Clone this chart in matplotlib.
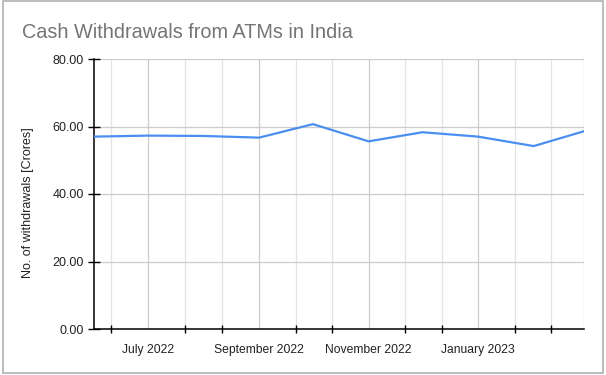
import numpy as np
import matplotlib
matplotlib.use('Agg')
import matplotlib.pyplot as plt
import matplotlib.dates as mdates
from matplotlib.patches import Rectangle
from datetime import datetime

# monthly data
meses=['2022-06-01','2022-07-01','2022-08-01','2022-09-01','2022-10-01',
       '2022-11-01','2022-12-01','2023-01-01','2023-02-01','2023-03-01']
retiros=[57.0,57.3,57.2,56.7,60.7,55.6,58.3,57.0,54.2,58.6]
etiquetas_x=['2022-07-01','2022-09-01','2022-11-01','2023-01-01']
ticks_y=[0,20,40,60,80]

plt.rcParams['font.family']=['Liberation Sans','DejaVu Sans']

fechas=[datetime.strptime(m,'%Y-%m-%d') for m in meses]
x=mdates.date2num(fechas)
x_lab=mdates.date2num([datetime.strptime(m,'%Y-%m-%d') for m in etiquetas_x])

# unlabeled ticks: thirds between label positions, as the original axis does
x_menor=[x_lab[0]-(x_lab[1]-x_lab[0])/3.0]
for a,b in zip(x_lab[:-1],x_lab[1:]):
    x_menor+= [a+(b-a)/3.0, a+2*(b-a)/3.0]
ult=(x_lab[-1]-x_lab[-2])/3.0
x_menor+= [x_lab[-1]+ult, x_lab[-1]+2*ult]

fig=plt.figure(figsize=(6.06,3.75),dpi=100)
ax=fig.add_axes([94/606,1-329/375,490/606,270/375])

for xv in x_menor:
    ax.axvline(xv,color='#e3e3e3',lw=0.9,zorder=0)
for xv in list(x_lab)+[x[-1]]:
    ax.axvline(xv,color='#cccccc',lw=0.9,zorder=0)
for yv in ticks_y[1:]:
    ax.axhline(yv,color='#cccccc',lw=0.9,zorder=0)

ax.plot(x,retiros,color='#4a8ff0',lw=1.6,zorder=3)

ax.set_xlim(x[0],x[-1]); ax.set_ylim(0,80)
ax.set_yticks(ticks_y)
ax.set_yticklabels([f"{v:.2f}" for v in ticks_y],fontsize=9,color='#222222')
ax.set_xticks(x_menor)
ax.set_xticklabels([])
ax.set_xticks(x_lab,minor=True)
ax.set_xticklabels([datetime.strptime(m,'%Y-%m-%d').strftime('%B %Y') for m in etiquetas_x],minor=True,fontsize=8.7,color='#222222')
ax.tick_params(axis='x',which='major',direction='inout',length=6,width=1,color='black')
ax.tick_params(axis='x',which='minor',length=0,pad=11)
ax.tick_params(axis='y',direction='inout',length=8.5,width=1,color='black',pad=3)

for s in ['top','right']: ax.spines[s].set_visible(False)
ax.spines['left'].set_linewidth(1.1); ax.spines['bottom'].set_linewidth(1.1)
ax.set_ylabel("No. of withdrawals [Crores]",fontsize=9,color='#222222')
ax.yaxis.set_label_coords((34-94)/490,(329-203)/270)

fig.text(22/606,1-38.5/375,"Cash Withdrawals from ATMs in India",fontsize=14.3,color='#757575',va='baseline',ha='left')
fig.patches.append(Rectangle((3/606,1-373/375),600/606,372/375,transform=fig.transFigure,
                             fill=False,edgecolor='#b0b0b0',lw=1.2))

fig.savefig('out.png',dpi=100)
